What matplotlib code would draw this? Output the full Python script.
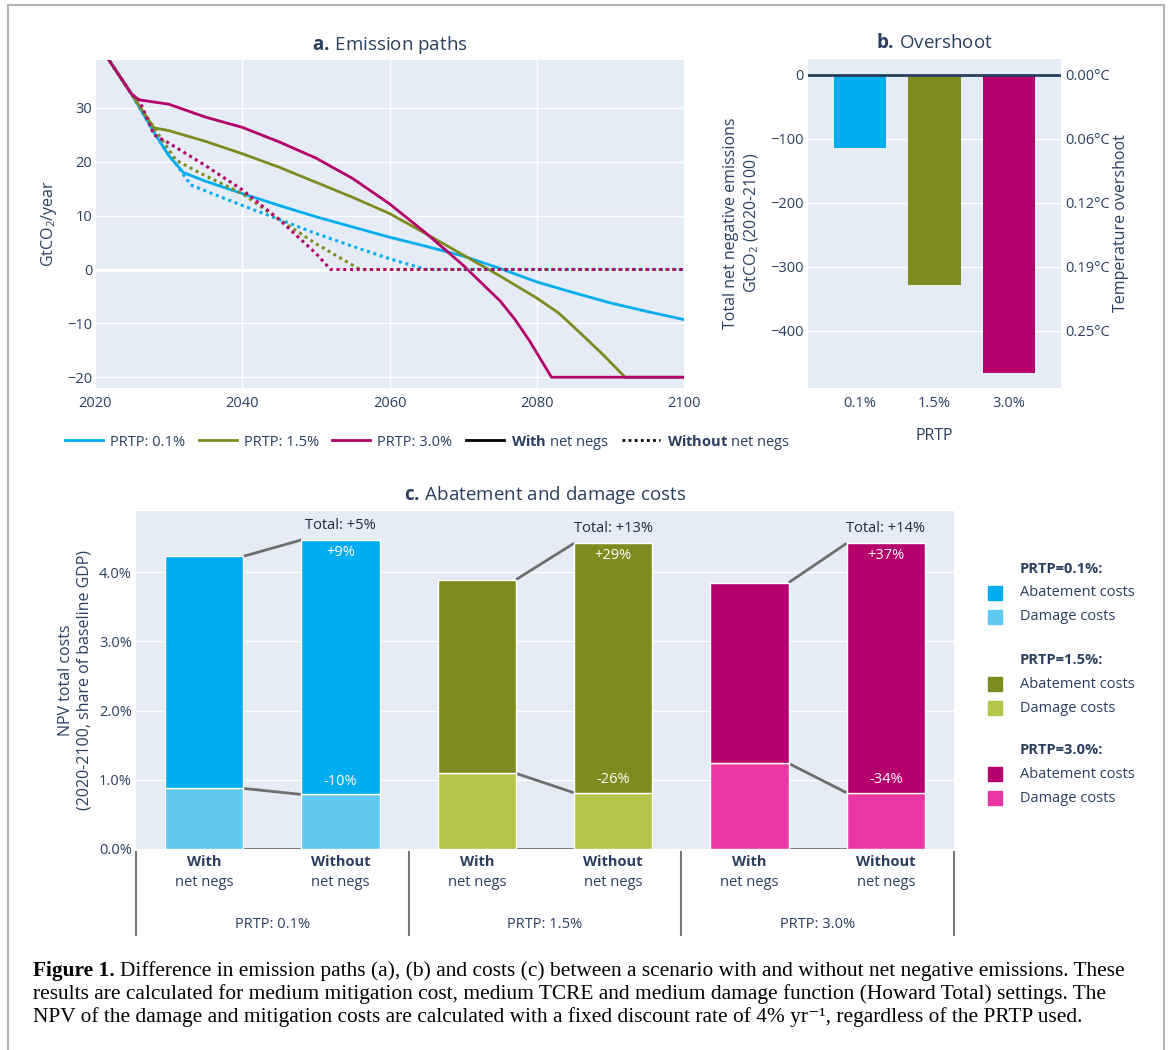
import matplotlib

matplotlib.use("Agg")

import matplotlib.pyplot as plt
import numpy as np
from matplotlib.lines import Line2D
from matplotlib.patches import Rectangle

# ---- panel a: emission paths (GtCO2/year) ----
with_01_years = [2020, 2025, 2028, 2030, 2032, 2035, 2040, 2045, 2050, 2055, 2060, 2065, 2070, 2075, 2080, 2085, 2090, 2095, 2100]
with_01_vals = [42.8, 32.5, 25.5, 21.2, 18.0, 16.4, 14.1, 11.9, 9.8, 7.9, 6.0, 4.3, 2.5, 0.2, -2.3, -4.3, -6.2, -7.8, -9.3]
with_15_years = [2020, 2025, 2028, 2030, 2035, 2040, 2045, 2050, 2055, 2060, 2065, 2070, 2075, 2080, 2083, 2086, 2089, 2092, 2100]
with_15_vals = [42.8, 32.5, 26.3, 25.8, 23.8, 21.5, 19.0, 16.2, 13.4, 10.4, 6.6, 2.7, -1.2, -5.3, -8.1, -11.9, -15.8, -20.0, -20.0]
with_30_years = [2020, 2025, 2026, 2030, 2035, 2040, 2045, 2050, 2055, 2060, 2065, 2070, 2075, 2077, 2079, 2082, 2100]
with_30_vals = [42.8, 32.5, 31.5, 30.7, 28.3, 26.4, 23.7, 20.7, 16.9, 12.2, 6.7, 0.8, -5.8, -9.2, -13.2, -20.0, -20.0]

wo_01_years = [2020, 2025, 2028, 2030, 2031, 2033, 2035, 2040, 2045, 2050, 2055, 2060, 2065, 2100]
wo_01_vals = [42.8, 32.5, 25.5, 21.2, 19.6, 15.7, 14.6, 11.9, 9.3, 6.7, 4.3, 2.0, 0.0, 0.0]
wo_15_years = [2020, 2025, 2028, 2031, 2035, 2040, 2045, 2050, 2056, 2100]
wo_15_vals = [42.8, 32.5, 26.3, 20.3, 17.4, 14.1, 9.3, 4.8, 0.0, 0.0]
wo_30_years = [2020, 2025, 2026, 2028, 2030, 2035, 2040, 2045, 2050, 2052, 2100]
wo_30_vals = [42.8, 32.5, 31.5, 25.0, 23.5, 19.3, 14.8, 9.3, 3.0, 0.0, 0.0]

prtp_names = ["PRTP: 0.1%", "PRTP: 1.5%", "PRTP: 3.0%"]

# ---- panel b: overshoot ----
overshoot_cats = ["0.1%", "1.5%", "3.0%"]
overshoot_vals = [-114, -329, -467]
overshoot_ticks = [0, -100, -200, -300, -400]
temp_labels = ["0.00°C", "0.06°C", "0.12°C", "0.19°C", "0.25°C"]

# ---- panel c: costs (% of baseline GDP) ----
scen_labels = ["With", "Without"]
total_costs = [4.231, 4.467, 3.894, 4.419, 3.851, 4.419]
damage_costs = [0.876, 0.789, 1.093, 0.813, 1.237, 0.813]
total_change = ["Total: +5%", "Total: +13%", "Total: +14%"]
abate_change = ["+9%", "+29%", "+37%"]
damage_change = ["-10%", "-26%", "-34%"]

line_colors = ["#00aeef", "#7e8b1f", "#b5006b"]
damage_colors = ["#5fc9f1", "#b5c44a", "#e936a0"]

W, H = 1168, 1050
TXT = "#2a3f5f"
BG = "#e5ecf6"


def fx(x):
    return x / W


def fy(y):
    return 1 - y / H


plt.rcParams["font.family"] = ["Open Sans", "DejaVu Sans"]
plt.rcParams["mathtext.fontset"] = "custom"
plt.rcParams["mathtext.rm"] = "Open Sans"
plt.rcParams["mathtext.bf"] = "Open Sans:bold"
plt.rcParams["mathtext.it"] = "Open Sans:italic"
plt.rcParams["text.color"] = TXT

fig = plt.figure(figsize=(W / 100, H / 100), dpi=100)

# grey frame round the figure
for xs, ys in [((8, 8), (1050, 5)), ((8, 1164), (5, 5)), ((1164, 1164), (5, 1050))]:
    fig.add_artist(Line2D([fx(x) for x in xs], [fy(y) for y in ys], color="#b4b4b4", lw=1.5))


def style(ax):
    ax.set_facecolor(BG)
    for s in ax.spines.values():
        s.set_visible(False)
    ax.tick_params(length=0, labelsize=10.5, labelcolor=TXT)
    ax.set_axisbelow(True)


# ---------------- panel a ----------------
ax_a = fig.add_axes([fx(95), fy(388), (684 - 95) / W, (388 - 60) / H])
style(ax_a)
ax_a.grid(color="white", lw=1)
ax_a.axhline(0, color="white", lw=2.2, zorder=1)
ax_a.tick_params(axis="x", pad=6)
ax_a.tick_params(axis="y", pad=2)

solid = [(with_01_years, with_01_vals), (with_15_years, with_15_vals), (with_30_years, with_30_vals)]
dotted = [(wo_01_years, wo_01_vals), (wo_15_years, wo_15_vals), (wo_30_years, wo_30_vals)]
for (xs, ys), c in zip(solid, line_colors):
    ax_a.plot(xs, ys, color=c, lw=2, zorder=3)
for (xs, ys), c in zip(dotted, line_colors):
    ax_a.plot(xs, ys, color=c, lw=2.2, ls=(0, (1, 1.2)), zorder=4)

ax_a.set_xlim(2020, 2100)
ax_a.set_ylim(-22, 38.9)
ax_a.set_xticks([2020, 2040, 2060, 2080, 2100])
ax_a.set_yticks([-20, -10, 0, 10, 20, 30])
fig.text(fx(390), fy(45), r"$\mathbf{a.}\,$Emission paths", ha="center", va="center", fontsize=13.5)
fig.text(fx(49), fy(224), r"GtCO$_2$/year", rotation=90, ha="center", va="center", fontsize=11.5)

handles = [Line2D([], [], color=c, lw=2) for c in line_colors]
handles += [Line2D([], [], color="black", lw=2), Line2D([], [], color="black", lw=2, ls=(0, (1, 1.2)))]
labels = prtp_names + [r"$\mathbf{With}$ net negs", r"$\mathbf{Without}$ net negs"]
fig.legend(handles, labels, loc="center left", bbox_to_anchor=(fx(52), fy(442)), ncol=5,
           frameon=False, fontsize=10.5, handlelength=2.6, handletextpad=0.5, columnspacing=0.9,
           labelcolor=TXT)

# ---------------- panel b ----------------
ax_b = fig.add_axes([fx(808), fy(388), (1061 - 808) / W, (388 - 59) / H])
style(ax_b)
ax_b.grid(axis="y", color="white", lw=1)
xb = np.arange(len(overshoot_cats))
ax_b.bar(xb, overshoot_vals, width=0.7, color=line_colors, zorder=2)
ax_b.axhline(0, color=TXT, lw=2, zorder=3)
ax_b.set_xlim(-0.7, 2.7)
ax_b.set_ylim(-490, 25)
ax_b.set_xticks(xb)
ax_b.set_xticklabels(overshoot_cats)
ax_b.set_yticks(overshoot_ticks)
ax_b.tick_params(axis="x", pad=6)
ax_b.tick_params(axis="y", pad=3)
ax_b2 = ax_b.twinx()
for s in ax_b2.spines.values():
    s.set_visible(False)
ax_b2.set_ylim(ax_b.get_ylim())
ax_b2.set_yticks(overshoot_ticks)
ax_b2.set_yticklabels(temp_labels)
ax_b2.tick_params(length=0, labelsize=10.5, labelcolor=TXT, pad=3)
fig.text(fx(934), fy(43), r"$\mathbf{b.}\,$Overshoot", ha="center", va="center", fontsize=13.5)
fig.text(fx(934), fy(436), "PRTP", ha="center", va="center", fontsize=11.5)
fig.text(fx(742), fy(223), "Total net negative emissions\nGtCO$_2$ (2020-2100)", rotation=90,
         ha="center", va="center", fontsize=11.5, linespacing=1.2)
fig.text(fx(1121), fy(223), "Temperature overshoot", rotation=90, ha="center", va="center", fontsize=11.5)

# ---------------- panel c ----------------
ax_c = fig.add_axes([fx(136), fy(849), (954 - 136) / W, (849 - 511) / H])
style(ax_c)
ax_c.grid(axis="y", color="white", lw=1)
ax_c.tick_params(axis="y", pad=3)
xc = np.arange(len(total_costs))
wdt = 0.575
total = np.array(total_costs)
damage = np.array(damage_costs)
abate = total - damage
bar_cols = [line_colors[i // 2] for i in xc]
dmg_cols = [damage_colors[i // 2] for i in xc]
ax_c.bar(xc, damage, width=wdt, color=dmg_cols, edgecolor="white", lw=1, zorder=2)
ax_c.bar(xc, abate, bottom=damage, width=wdt, color=bar_cols, edgecolor="white", lw=1, zorder=2)

for g in range(3):
    a, b = 2 * g, 2 * g + 1
    x0, x1 = a + wdt / 2, b - wdt / 2
    for vals in (total, damage, np.zeros(6)):
        ax_c.plot([x0, x1], [vals[a], vals[b]], color="#6e6e6e", lw=2, zorder=1, solid_capstyle="butt")
    ax_c.annotate(total_change[g], (b, total[b]), xytext=(0, 5), textcoords="offset points",
                  ha="center", va="bottom", fontsize=10.5, color="#1e2a3a")
    ax_c.text(b, total[b] - 0.18, abate_change[g], ha="center", va="center", fontsize=10.5, color="white")
    ax_c.text(b, damage[b] + 0.19, damage_change[g], ha="center", va="center", fontsize=10.5, color="white")

ax_c.set_xlim(-0.5, 5.5)
ax_c.set_ylim(0, 4.886)
ax_c.set_yticks([0, 1, 2, 3, 4])
ax_c.set_yticklabels(["0.0%", "1.0%", "2.0%", "3.0%", "4.0%"])
ax_c.set_xticks([])

tr = ax_c.get_xaxis_transform()
hpx = 849 - 511
for i in xc:
    ax_c.text(i, -(862 - 849) / hpx, scen_labels[i % 2], transform=tr, ha="center", va="center",
              fontsize=10.5, fontweight="bold", clip_on=False)
    ax_c.text(i, -(882 - 849) / hpx, "net negs", transform=tr, ha="center", va="center",
              fontsize=10.5, clip_on=False)
for g in range(3):
    ax_c.text(2 * g + 0.5, -(925 - 849) / hpx, prtp_names[g], transform=tr, ha="center", va="center",
              fontsize=10.5, clip_on=False)
for xd in [-0.5, 1.5, 3.5, 5.5]:
    ax_c.plot([xd, xd], [-(852 - 849) / hpx, -(935 - 849) / hpx], transform=tr, color="#7a7a7a",
              lw=1.5, clip_on=False)

fig.text(fx(545), fy(495), r"$\mathbf{c.}\,$Abatement and damage costs", ha="center", va="center", fontsize=13.5)
fig.text(fx(75), fy(680), "NPV total costs\n(2020-2100, share of baseline GDP)", rotation=90,
         ha="center", va="center", fontsize=11.5, linespacing=1.2)

# legend of panel c
rows = [569, 660, 750]
for g in range(3):
    y0 = rows[g]
    fig.text(fx(1020), fy(y0), "PRTP=" + overshoot_cats[g] + ":", ha="left", va="center",
             fontsize=10.5, fontweight="bold")
    for k, (col, lab) in enumerate([(line_colors[g], "Abatement costs"), (damage_colors[g], "Damage costs")]):
        yy = y0 + 24 + 24 * k
        fig.add_artist(Rectangle((fx(988), fy(yy + 7)), 14 / W, 14 / H, color=col, transform=fig.transFigure))
        fig.text(fx(1020), fy(yy), lab, ha="left", va="center", fontsize=10.5)

# ---------------- caption ----------------
cap_font = ["Liberation Serif", "DejaVu Serif"]
cap_size = 15.4
cap_lines = [
    "Difference in emission paths (a), (b) and costs (c) between a scenario with and without net negative emissions. These",
    "results are calculated for medium mitigation cost, medium TCRE and medium damage function (Howard Total) settings. The",
    "NPV of the damage and mitigation costs are calculated with a fixed discount rate of 4% yr\u207b\u00b9, regardless of the PRTP used.",
]
cap_y = [971, 994, 1017]
head = fig.text(fx(33), fy(cap_y[0]), "Figure 1.", ha="left", va="center", fontsize=cap_size,
                fontweight="bold", family=cap_font, color="black")
fig.canvas.draw()
bb = head.get_window_extent()
fig.text(bb.x1 / W + 5 / W, fy(cap_y[0]), cap_lines[0], ha="left", va="center", fontsize=cap_size,
         family=cap_font, color="black")
for line, y in zip(cap_lines[1:], cap_y[1:]):
    fig.text(fx(33), fy(y), line, ha="left", va="center", fontsize=cap_size, family=cap_font, color="black")

fig.savefig("out.png", dpi=100)
